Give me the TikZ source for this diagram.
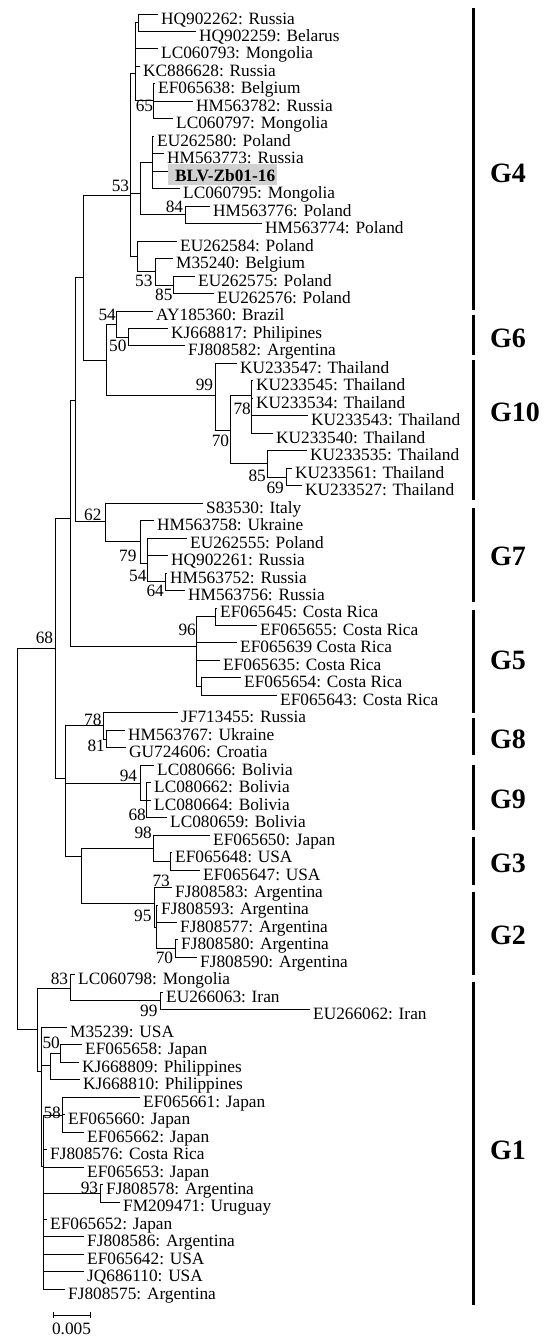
\documentclass[tikz,border=0pt]{standalone}
\usepackage{fontspec}
\setmainfont{Liberation Serif}
\usepackage{xcolor}
\usepackage{tikz}
\usetikzlibrary{calc}

\definecolor{hlgray}{gray}{0.82}

\tikzset{
    br/.style={line width=0.9pt, black},
    leaf/.style={anchor=base west, inner sep=0pt, xshift=3pt, yshift=-10pt,
        font=\fontsize{17.3}{20}\selectfont},
    bs/.style={anchor=base east, inner sep=0pt, font=\fontsize{17.3}{20}\selectfont},
    grpbar/.style={line width=3.3pt, black},
    grp/.style={anchor=west, inner sep=0pt, font=\fontsize{28}{30}\selectfont\bfseries},
    hlbox/.style={fill=hlgray}
}

\begin{document}
\begin{tikzpicture}[x=1pt, y=-1pt]
    \useasboundingbox (0,0) rectangle (549,1336);

    % tips
    \foreach \n/\xe/\txt in {1/158/HQ902262: Russia, 2/196/HQ902259: Belarus,
        3/158/LC060793: Mongolia, 4/140/KC886628: Russia, 5/155/EF065638: Belgium,
        6/193/HM563782: Russia, 7/173/LC060797: Mongolia, 8/154/EU262580: Poland,
        9/164/HM563773: Russia, 11/180/LC060795: Mongolia, 12/210/HM563776: Poland,
        13/262/HM563774: Poland, 14/177/EU262584: Poland, 15/173/M35240: Belgium,
        16/195/EU262575: Poland, 17/214/EU262576: Poland, 18/153/AY185360: Brazil,
        19/168/KJ668817: Philipines, 20/185/FJ808582: Argentina,
        21/237/KU233547: Thailand, 22/253/KU233545: Thailand, 23/253/KU233534: Thailand,
        24/308/KU233543: Thailand, 25/273/KU233540: Thailand, 26/307/KU233535: Thailand,
        27/292/KU233561: Thailand, 28/302/KU233527: Thailand,
        29/203/S83530: Italy, 30/154/HM563758: Ukraine, 31/187/EU262555: Poland,
        32/168/HQ902261: Russia, 33/167/HM563752: Russia, 34/185/HM563756: Russia,
        35/217/EF065645: Costa Rica, 36/257/EF065655: Costa Rica,
        37/237/EF065639 Costa Rica, 38/220/EF065635: Costa Rica,
        39/241/EF065654: Costa Rica, 40/277/EF065643: Costa Rica,
        41/178/JF713455: Russia, 42/125/HM563767: Ukraine, 43/126/GU724606: Croatia,
        44/154/LC080666: Bolivia, 45/151/LC080662: Bolivia, 46/151/LC080664: Bolivia,
        47/167/LC080659: Bolivia, 48/210/EF065650: Japan, 49/172/EF065648: USA,
        50/200/EF065647: USA, 51/172/FJ808583: Argentina, 52/158/FJ808593: Argentina,
        53/177/FJ808577: Argentina, 54/178/FJ808580: Argentina, 55/197/FJ808590: Argentina,
        56/75/LC060798: Mongolia, 57/163/EU266063: Iran, 58/310/EU266062: Iran,
        59/67/M35239: USA, 60/82/EF065658: Japan, 61/79/KJ668809: Philippines,
        62/80/KJ668810: Philippines, 63/140/EF065661: Japan, 64/65/EF065660: Japan,
        65/84/EF065662: Japan, 66/47/FJ808576: Costa Rica, 67/84/EF065653: Japan,
        68/103/FJ808578: Argentina, 69/120/FM209471: Uruguay, 70/47/EF065652: Japan,
        71/84/FJ808586: Argentina, 72/84/EF065642: USA, 73/84/JQ686110: USA,
        74/65/FJ808575: Argentina}
    {
        \pgfmathsetmacro\yy{14+(\n-1)*17.47}
        \coordinate (l\n) at (\xe,\yy);
        \node[leaf] (t\n) at (l\n) {\txt};
    }
    \coordinate (l10) at (168,171.23);
    \fill[hlbox] ($(l10)+(0,-7)$) rectangle ++(109,21);
    \node[leaf, xshift=4pt, font=\fontsize{17.3}{20}\selectfont\bfseries] (t10) at (l10) {BLV-Zb01-16};

    % inner nodes
    \coordinate (n1) at (138,22.7);   \coordinate (n3) at (153,100);
    \coordinate (u4) at (135.5,73);   \coordinate (c8) at (152,162);
    \coordinate (c84) at (185,214.8); \coordinate (m4) at (140,193);
    \coordinate (r85) at (173,285);   \coordinate (r53) at (155,271.7);
    \coordinate (r4) at (137,256.5);  \coordinate (g4) at (130.7,195.7);
    \coordinate (g6b) at (128.3,337); \coordinate (g6) at (116.7,324);
    \coordinate (n69) at (286,477);   \coordinate (n85) at (267.3,463.5);
    \coordinate (n78) at (251.7,395); \coordinate (n70) at (230.7,430);
    \coordinate (g10) at (215,395);   \coordinate (k) at (106.7,360);
    \coordinate (p) at (83,277.3);
    \coordinate (n64) at (165,581.7); \coordinate (n54) at (147.7,563.3);
    \coordinate (n79) at (140,541.7); \coordinate (g7) at (105,521.7);
    \coordinate (q) at (75.7,400);
    \coordinate (g5a) at (215,616.7); \coordinate (g5c) at (201,686.5);
    \coordinate (g5) at (196.7,646.7); \coordinate (r0) at (70,518);
    \coordinate (g8b) at (106,739);   \coordinate (g8) at (103.3,725);
    \coordinate (g9b) at (146.7,800); \coordinate (g9) at (140,783);
    \coordinate (n73) at (170,861);   \coordinate (g3) at (153,848);
    \coordinate (n70b) at (175,948.7); \coordinate (g2b) at (156,927);
    \coordinate (g2) at (154,903.3);  \coordinate (t) at (81.7,856.7);
    \coordinate (s) at (65.7,778.3);  \coordinate (n68) at (55,648);
    \coordinate (n99) at (160,1000);  \coordinate (n83) at (70,988.3);
    \coordinate (n50) at (60,1053);   \coordinate (x1) at (50,1065.5);
    \coordinate (n58) at (62.7,1115); \coordinate (n93) at (100,1193.3);
    \coordinate (z2) at (43.3,1166);  \coordinate (z1) at (41.7,1071.7);
    \coordinate (g1) at (37,1029);    \coordinate (root) at (17,838.6);

    % branches
    \foreach \p/\cs in {n1/{l1,l2}, n3/{l5,l6,l7}, u4/{n1,l3,l4,n3},
        c8/{l8,l9,l10,l11}, c84/{l12,l13}, m4/{c8,c84}, r85/{l16,l17},
        r53/{l15,r85}, r4/{l14,r53}, g4/{u4,m4,r4},
        g6b/{l19,l20}, g6/{l18,g6b}, n69/{l27,l28}, n85/{l26,n69},
        n78/{l22,l23,l24,l25}, n70/{n78,n85}, g10/{l21,n70}, k/{g6,g10}, p/{g4,k},
        n64/{l33,l34}, n54/{l31,l32,n64}, n79/{l30,n54}, g7/{l29,n79}, q/{p,g7},
        g5a/{l35,l36}, g5c/{l39,l40}, g5/{g5a,l37,l38,g5c}, r0/{q,g5},
        g8b/{l42,l43}, g8/{l41,g8b}, g9b/{l45,l46,l47}, g9/{l44,g9b},
        n73/{l49,l50}, g3/{l48,n73}, n70b/{l54,l55}, g2b/{l52,l53,n70b},
        g2/{l51,g2b}, t/{g3,g2}, s/{g8,g9,t}, n68/{r0,s},
        n99/{l57,l58}, n83/{l56,n99}, n50/{l60,l61}, x1/{n50,l62},
        n58/{l63,l64,l65}, n93/{l68,l69}, z2/{n58,l66,l67,n93,l70,l71,l72,l73,l74},
        z1/{l59,x1,z2}, g1/{n83,z1}, root/{n68,g1}}
    {
        \foreach \c in \cs
            \draw[br] (\p) |- (\c);
    }

    % bootstrap values
    \foreach \x/\y/\v [count=\i] in {129.3/191.7/53, 153.3/111.7/65, 183.3/212.3/84,
        152.7/286.7/53, 172.7/300/85, 116/320/54, 126.7/351.7/50, 213.3/390/99,
        251/414.3/78, 229.3/446.7/70, 266/481.7/85, 284/493.3/69, 101.7/520/62,
        136.7/561.7/79, 146.7/581/54, 164/596.7/64, 196/635/96, 53.3/643.3/68,
        101.7/725/78, 105/751.7/81, 137.3/781/94, 146/820/68, 152/838.3/98,
        170/886.7/73, 151.7/921.7/95, 173.3/963.3/70, 68.3/984.3/83,
        157.7/1016.7/99, 60/1048.3/50, 61/1118.3/58, 98.3/1193.5/93}
        \node[bs] (bs\i) at (\x,\y) {\v};

    % genotype bars
    \foreach \g/\a/\b/\m in {G4/8.3/310/173.3, G6/315/355/338.3, G10/360/500/412.5,
        G7/508.3/601.7/556.7, G5/610/713.3/660.7, G8/718.3/755/739, G9/765/830/799,
        G3/836.7/885/863.3, G2/891.7/975/935, G1/981.7/1305/1150}
    {
        \coordinate (\g top) at (473.3,\a);
        \coordinate (\g bot) at (473.3,\b);
        \draw[grpbar] (\g top) -- (\g bot);
        \node[grp] (\g) at (490,\m) {\g};
    }

    % scale
    \coordinate (sb1) at (53,1315);
    \coordinate (sb2) at (90,1315);
    \draw[br] (sb1) -- (sb2);
    \draw[br] ($(sb1)+(0,-3)$) -- ($(sb1)+(0,3)$);
    \draw[br] ($(sb2)+(0,-3)$) -- ($(sb2)+(0,3)$);
    \node[bs, anchor=base] (sbl) at (71.5,1334) {0.005};
\end{tikzpicture}
\end{document}
